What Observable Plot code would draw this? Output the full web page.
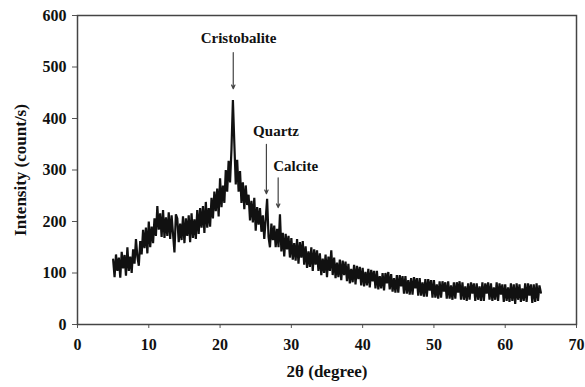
<!DOCTYPE html>
<html>
<head>
<meta charset="utf-8">
<script src="https://cdn.jsdelivr.net/npm/d3@7"></script>
<script src="https://cdn.jsdelivr.net/npm/@observablehq/plot@0.6"></script>
<style>
  html, body { margin: 0; padding: 0; background: #fff; }
  #chart svg { display: block; }
  #chart svg, #chart svg text { font-family: "Liberation Serif", "Times New Roman", serif !important; font-weight: bold; }
</style>
</head>
<body>
<div id="chart"></div>
<script>
// XRD scan: 2θ from 5° to 65°, sampled every 0.2°
const angleStart = 5;
const angleStep = 0.2;
const intensity = [
  126, 92, 136, 104, 130,   // 5
  91, 141, 109, 135, 95,    // 6
  150, 104, 132, 100, 146,  // 7
  118, 166, 132, 114, 162,  // 8
  136, 184, 148, 188, 138,  // 9
  200, 150, 190, 158, 206,  // 10
  172, 230, 184, 216, 170,  // 11
  222, 168, 208, 172, 218,  // 12
  166, 212, 176, 140, 214,  // 13
  206, 160, 196, 164, 210,  // 14
  158, 206, 172, 212, 160,  // 15
  216, 168, 204, 166, 222,  // 16
  176, 226, 188, 230, 178,  // 17
  238, 188, 226, 190, 246,  // 18
  206, 258, 220, 264, 210,  // 19
  284, 228, 270, 236, 300,  // 20
  258, 318, 276, 340, 436,  // 21
  352, 272, 320, 258, 298,  // 22
  236, 276, 224, 270, 232,  // 23
  252, 202, 240, 198, 246,  // 24
  182, 228, 194, 226, 180,  // 25
  212, 166, 204, 244, 170,  // 26
  150, 196, 164, 192, 150,  // 27
  186, 150, 214, 142, 178,  // 28
  132, 176, 146, 172, 130,  // 29
  168, 126, 158, 124, 166,  // 30
  118, 160, 130, 162, 116,  // 31
  152, 110, 142, 112, 150,  // 32
  104, 146, 116, 144, 104,  // 33
  138, 96, 128, 100, 136,   // 34
  92, 132, 104, 144, 96,    // 35
  130, 90, 120, 92, 126,    // 36
  86, 124, 96, 122, 84,     // 37
  118, 80, 108, 82, 116,    // 38
  78, 114, 88, 112, 76,     // 39
  110, 74, 102, 76, 108,    // 40
  72, 106, 84, 104, 70,     // 41
  104, 68, 94, 70, 100,     // 42
  66, 100, 80, 102, 68,     // 43
  98, 64, 90, 62, 96,       // 44
  62, 96, 74, 94, 60,       // 45
  94, 60, 86, 58, 90,       // 46
  58, 92, 70, 90, 56,       // 47
  90, 56, 82, 54, 88,       // 48
  54, 88, 66, 86, 52,       // 49
  86, 52, 78, 50, 84,       // 50
  52, 84, 64, 82, 50,       // 51
  84, 50, 76, 48, 82,       // 52
  50, 82, 62, 84, 48,       // 53
  82, 48, 74, 46, 80,       // 54
  48, 82, 60, 80, 46,       // 55
  80, 48, 74, 46, 82,       // 56
  46, 80, 60, 82, 48,       // 57
  80, 46, 72, 48, 82,       // 58
  46, 80, 58, 78, 44,       // 59
  78, 46, 72, 44, 80,       // 60
  46, 78, 40, 80, 48,       // 61
  78, 44, 70, 46, 80,       // 62
  44, 80, 56, 78, 42,       // 63
  78, 44, 80, 46, 76,       // 64
  62                        // 65
];

// Peak annotations
const peakNames = ["Cristobalite", "Quartz", "Calcite"];
const peakAngles = [21.85, 26.5, 28.15];
const arrowTop = [528, 350, 285];
const arrowTip = [458, 254, 227];
const labelAngles = [22.6, 27.85, 30.6];
const labelValues = [555, 375, 307];

const xTicks = [0, 10, 20, 30, 40, 50, 60, 70];
const yTicks = [0, 100, 200, 300, 400, 500, 600];

const scan = intensity.map((v, i) => ({
  angle: +(angleStart + angleStep * i).toFixed(2),
  count: v
}));
const peaks = peakNames.map((name, i) => ({
  name,
  angle: peakAngles[i],
  top: arrowTop[i],
  tip: arrowTip[i],
  lx: labelAngles[i],
  ly: labelValues[i]
}));

const chart = Plot.plot({
  width: 585,
  height: 387,
  marginLeft: 77,
  marginRight: 9,
  marginTop: 15,
  marginBottom: 63,
  style: { background: "#fff", color: "#111" },
  x: { domain: [0, 70] },
  y: { domain: [0, 600] },
  marks: [
    Plot.axisX({
      ticks: xTicks, tickSize: 4, tickPadding: 10, fontSize: 16,
      stroke: "#555", label: "2θ (degree)", labelAnchor: "center",
      labelOffset: 52, labelArrow: false
    }),
    Plot.axisY({
      ticks: yTicks, tickSize: 5, tickPadding: 6, fontSize: 16,
      stroke: "#555", label: "Intensity (count/s)", labelAnchor: "center",
      labelOffset: 64, labelArrow: false
    }),
    Plot.line(scan, { x: "angle", y: "count", stroke: "#111", strokeWidth: 2.2, strokeLinejoin: "miter", strokeMiterlimit: 2 }),
    Plot.arrow(peaks, {
      x1: "angle", x2: "angle", y1: "top", y2: "tip",
      stroke: "#444", strokeWidth: 1.2, headLength: 5, headAngle: 50
    }),
    Plot.text(peaks, {
      x: "lx", y: "ly", text: "name", fontSize: 15,
      fill: "#111", textAnchor: "middle"
    }),
    Plot.frame({ stroke: "#444", strokeWidth: 1.5 })
  ]
});

chart.querySelectorAll("[aria-label='x-axis label'] text, [aria-label='y-axis label'] text")
  .forEach(t => { t.setAttribute("font-size", 17); });

document.getElementById("chart").appendChild(chart);
</script>
</body>
</html>
